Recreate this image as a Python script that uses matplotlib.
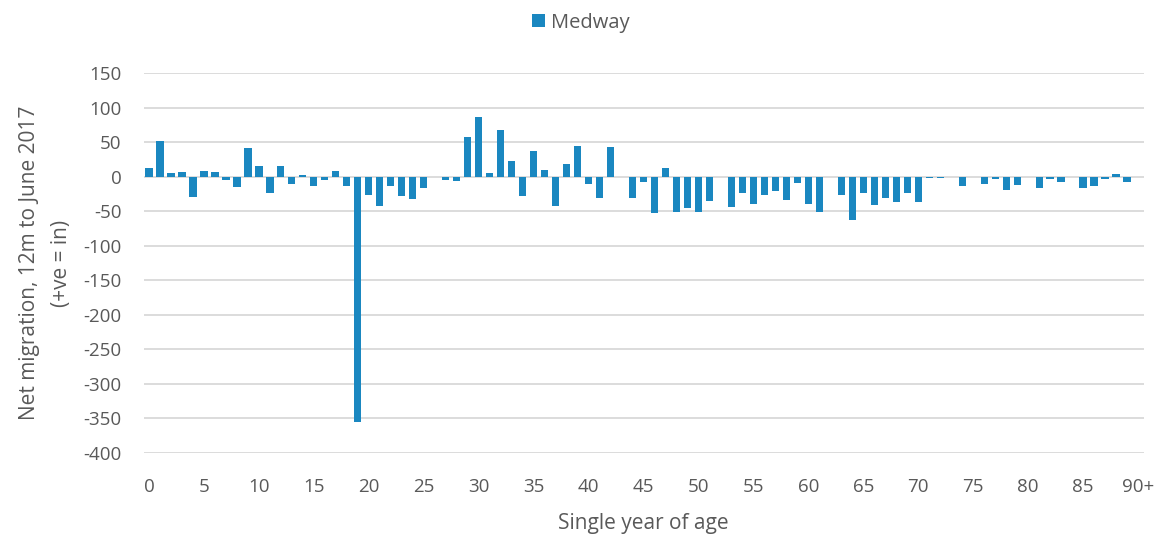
import numpy as np
import matplotlib.pyplot as plt

# net migration by single year of age, Medway, 12m to June 2017
ages = list(range(91))
net_migration = [13, 52, 5, 7, -29, 8, 7, -5, -15, 42,
                 16, -23, 15, -10, 3, -14, -5, 8, -14, -355,
                 -26, -42, -13, -28, -32, -17, 0, -5, -6, 57,
                 87, 5, 67, 23, -28, 37, 10, -42, 18, 44,
                 -11, -31, 43, 0, -31, -7, -53, 12, -51, -45,
                 -51, -35, 0, -44, -23, -40, -27, -20, -34, -9,
                 -40, -51, 0, -26, -63, -24, -41, -31, -37, -24,
                 -36, -2, -2, 0, -13, 0, -10, -3, -19, -12,
                 0, -16, -3, -7, -1, -16, -13, -3, 4, -7,
                 -1]
tick_pos = list(range(0, 91, 5))
tick_labels = [str(t) for t in range(0, 90, 5)] + ['90+']

plt.rcParams['font.family'] = ['Open Sans', 'DejaVu Sans']
plt.rcParams['axes.unicode_minus'] = False
grey = '#595959'

fig = plt.figure(figsize=(11.62, 5.38), dpi=100)
ax = fig.add_axes([0.1235, 0.158, 0.8606, 0.706])

ax.bar(ages, net_migration, width=0.66, color='#1a87c0', label='Medway', zorder=3)

ax.set_xlim(-0.5, 90.5)
ax.set_ylim(-400, 150)
ax.set_yticks(np.arange(-400, 151, 50))
ax.set_xticks(tick_pos)
ax.set_xticklabels(tick_labels)
ax.tick_params(axis='both', length=0, labelsize=13.5, colors=grey)
ax.tick_params(axis='y', pad=16)
ax.tick_params(axis='x', pad=18)
ax.grid(axis='y', color='#d9d9d9', linewidth=1.3, zorder=0)
for s in ax.spines.values():
    s.set_visible(False)

ax.set_xlabel('Single year of age', fontsize=15, color=grey, labelpad=12)
ax.set_ylabel('Net migration, 12m to June 2017\n(+ve = in)', fontsize=15, color=grey,
              labelpad=8, linespacing=1.7)

leg = fig.legend(loc='upper center', bbox_to_anchor=(0.5, 1.01), frameon=False,
                 fontsize=14.5, handlelength=0.65, handleheight=0.65, handletextpad=0.3)
for t in leg.get_texts():
    t.set_color(grey)

fig.savefig('out.png', dpi=100)
